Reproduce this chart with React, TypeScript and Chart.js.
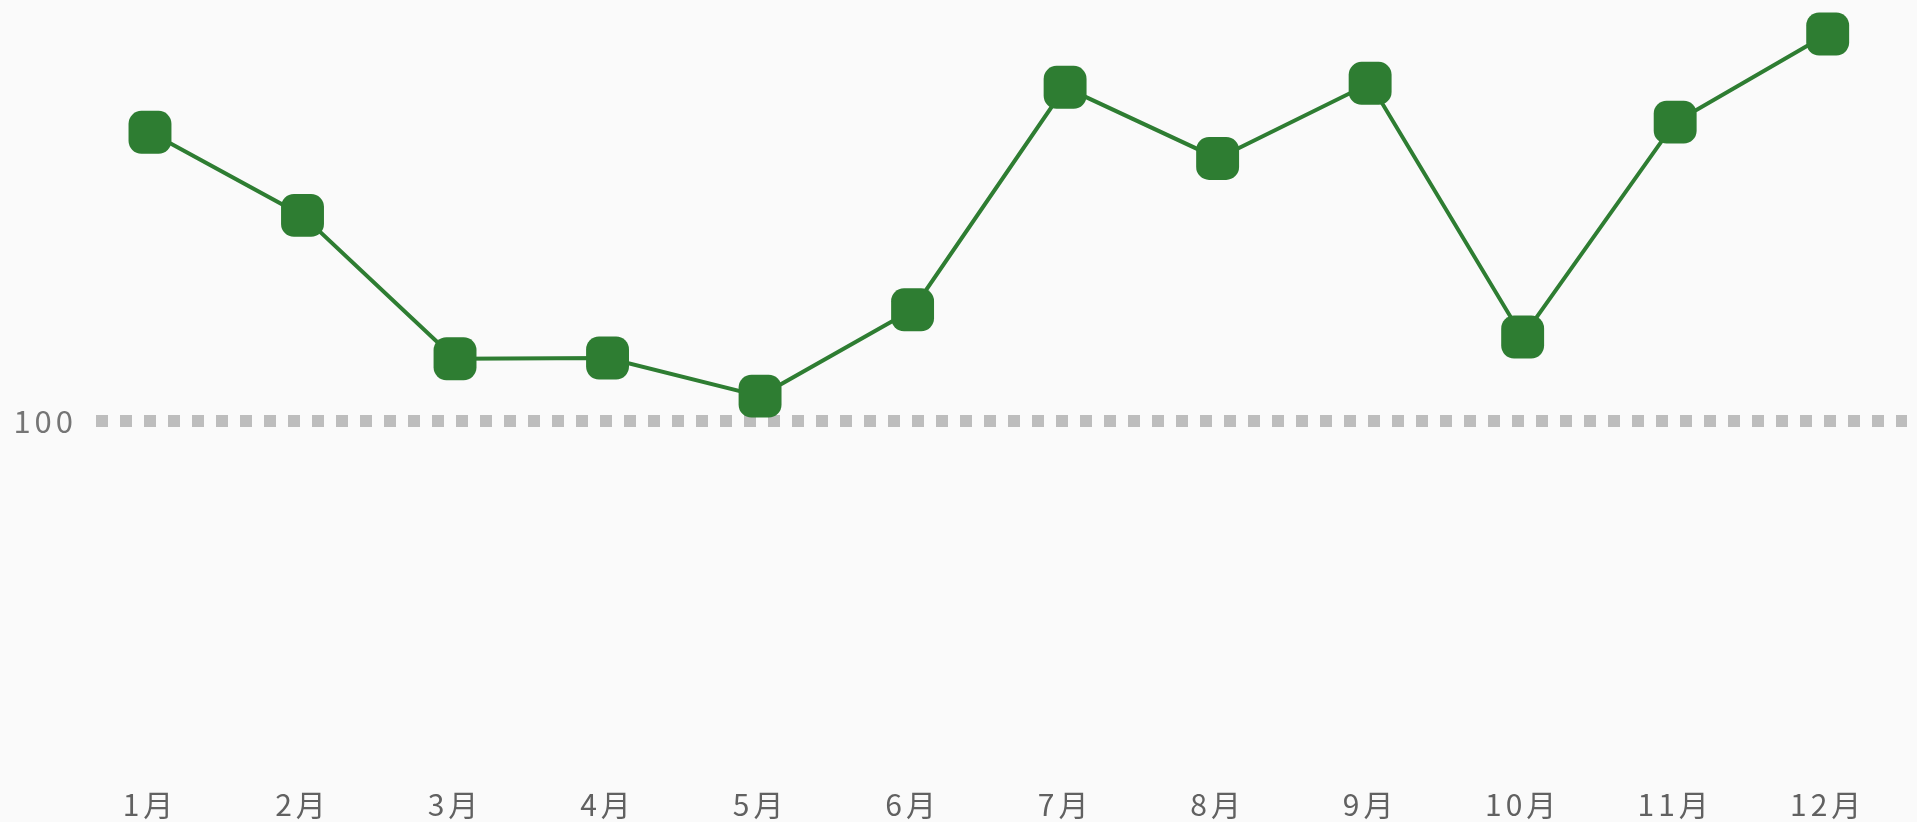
import { useEffect, useRef } from "react";
import { Chart, registerables } from "chart.js";

Chart.register(...registerables);

const months = ["1月", "2月", "3月", "4月", "5月", "6月", "7月", "8月", "9月", "10月", "11月", "12月"];
const values = [179.6, 156.7, 117.2, 117.4, 106.9, 130.7, 192.0, 172.4, 193.1, 123.2, 182.4, 206.7];
const yTickValues = [100];
const yMin = 0;
const yMax = 210;
const xMin = -0.354;
const xMax = 11.52;

const spacingPlugin = {
  id: "letterSpacing",
  beforeDraw(chart: any) {
    chart.ctx.letterSpacing = "4px";
  },
  afterDraw(chart: any) {
    chart.ctx.letterSpacing = "0px";
  },
};

export default function App() {
  const ref = useRef<HTMLCanvasElement | null>(null);

  useEffect(() => {
    if (!ref.current) return;
    const green = "#2e7d32";
    const fontFamily = "'Noto Sans CJK JP', 'Noto Sans', sans-serif";
    const chart = new Chart(ref.current, {
      type: "line",
      data: {
        datasets: [
          {
            data: values.map((v, i) => ({ x: i, y: v })),
            borderColor: green,
            backgroundColor: green,
            borderWidth: 4,
            tension: 0,
            pointStyle: "rectRounded",
            pointRadius: 25,
            pointHoverRadius: 25,
            pointBackgroundColor: green,
            pointBorderColor: green,
            pointBorderWidth: 0,
            clip: false as any,
          },
        ],
      },
      plugins: [spacingPlugin],
      options: {
        animation: false,
        responsive: true,
        maintainAspectRatio: false,
        layout: { autoPadding: false, padding: { top: 22, right: 10, left: 0, bottom: 0 } },
        plugins: {
          legend: { display: false },
          tooltip: { enabled: false },
        },
        scales: {
          x: {
            type: "linear",
            min: xMin,
            max: xMax,
            afterFit: (scale: any) => {
              scale.height = 38;
            },
            grid: { display: false, drawTicks: false },
            border: { display: false },
            ticks: {
              stepSize: 1,
              includeBounds: false,
              autoSkip: false,
              maxRotation: 0,
              padding: 3,
              color: "#616161",
              font: { family: fontFamily, size: 30 },
              callback: (v: any) => months[Number(v)] ?? "",
            },
          },
          y: {
            type: "linear",
            min: yMin,
            max: yMax,
            afterBuildTicks: (scale: any) => {
              scale.ticks = yTickValues.map((v) => ({ value: v }));
            },
            afterFit: (scale: any) => {
              scale.width = 96;
              scale.paddingTop = 0;
              scale.paddingBottom = 0;
            },
            grid: {
              color: "#bdbdbd",
              lineWidth: 12,
              drawTicks: false,
            },
            border: { display: false, dash: [12, 12] },
            ticks: {
              padding: 19,
              color: "#757575",
              font: { family: fontFamily, size: 31 },
              callback: (v: any) => String(v),
            },
          },
        },
      },
    });
    return () => chart.destroy();
  }, []);

  return (
    <div style={{ position: "fixed", inset: 0, background: "#fafafa" }}>
      <canvas ref={ref} />
    </div>
  );
}
